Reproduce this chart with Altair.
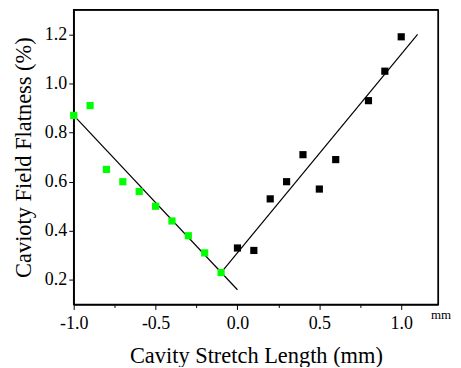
import altair as alt
import pandas as pd

green_x = [-1.0, -0.9, -0.8, -0.7, -0.6, -0.5, -0.4, -0.3, -0.2, -0.1]
green_y = [0.87, 0.91, 0.65, 0.60, 0.56, 0.50, 0.44, 0.38, 0.31, 0.23]
black_x = [0.0, 0.1, 0.2, 0.3, 0.4, 0.5, 0.6, 0.8, 0.9, 1.0]
black_y = [0.33, 0.32, 0.53, 0.60, 0.71, 0.57, 0.69, 0.93, 1.05, 1.19]
fit_green_x = [-1.0, 0.0]
fit_green_y = [0.87, 0.16]
fit_black_x = [-0.1, 1.1]
fit_black_y = [0.23, 1.20]
x_ticks = [-1.0, -0.75, -0.5, -0.25, 0.0, 0.25, 0.5, 0.75, 1.0]
y_ticks = [0.2, 0.3, 0.4, 0.5, 0.6, 0.7, 0.8, 0.9, 1.0, 1.1, 1.2, 1.3]
x_domain = [-1.0, 1.225]
y_domain = [0.1, 1.3]

FONT = "Liberation Serif"
W, H = 366, 296

green = pd.DataFrame({"x": green_x, "y": green_y})
black = pd.DataFrame({"x": black_x, "y": black_y})
fits = pd.DataFrame({
    "x": fit_green_x + fit_black_x,
    "y": fit_green_y + fit_black_y,
    "g": ["a", "a", "b", "b"],
})
box = pd.DataFrame({"x0": [x_domain[0]], "x1": [x_domain[1]],
                    "y0": [y_domain[0]], "y1": [y_domain[1]]})

xscale = alt.Scale(domain=x_domain, nice=False, zero=False)
yscale = alt.Scale(domain=y_domain, nice=False, zero=False)

XMAJ = "abs(datum.value*2 - round(datum.value*2)) < 0.001"
YMAJ = "abs(datum.value*5 - round(datum.value*5)) < 0.001"

xaxis = alt.Axis(
    values=x_ticks,
    labelExpr=XMAJ + " ? replace(format(datum.value, '.1f'), '\u2212', '-') : ''",
    tickSize={"condition": {"test": XMAJ, "value": 5}, "value": 3},
    grid=False,
    domainColor="black", tickColor="black", labelColor="black", titleColor="black",
    labelFont=FONT, labelFontSize=18, titleFont=FONT, titleFontSize=22.5,
    titleFontWeight="normal", labelPadding=5, titlePadding=12,
    labelFlush=False, labelOverlap=False,
    title="Cavity Stretch Length (mm)",
)
yaxis = alt.Axis(
    values=y_ticks,
    labelExpr=YMAJ + " ? format(datum.value, '.1f') : ''",
    tickSize={"condition": {"test": YMAJ, "value": 5}, "value": 3},
    grid=False,
    domainColor="black", tickColor="black", labelColor="black", titleColor="black",
    labelFont=FONT, labelFontSize=18, titleFont=FONT, titleFontSize=22.5,
    titleFontWeight="normal", labelPadding=2, titlePadding=9,
    labelFlush=False, labelOverlap=False,
    title="Cavioty Field Flatness (%)",
)

frame = alt.Chart(box).mark_rect(
    filled=False, stroke="black", strokeWidth=1.5, strokeOpacity=1, clip=False
).encode(
    x=alt.X("x0:Q", scale=xscale, axis=xaxis),
    x2="x1:Q",
    y=alt.Y("y0:Q", scale=yscale, axis=yaxis),
    y2="y1:Q",
)

pts_green = alt.Chart(green).mark_square(size=52, color="#00ff00", opacity=1).encode(
    x=alt.X("x:Q", scale=xscale),
    y=alt.Y("y:Q", scale=yscale),
)
pts_black = alt.Chart(black).mark_square(size=52, color="black", opacity=1).encode(
    x=alt.X("x:Q", scale=xscale),
    y=alt.Y("y:Q", scale=yscale),
)
lines = alt.Chart(fits).mark_line(color="black", strokeWidth=1.2).encode(
    x=alt.X("x:Q", scale=xscale),
    y=alt.Y("y:Q", scale=yscale),
    detail="g:N",
)
mm = alt.Chart(pd.DataFrame({"t": ["mm"]})).mark_text(
    font=FONT, fontSize=13, color="black", align="center", baseline="middle", clip=False
).encode(x=alt.value(369), y=alt.value(307), text="t:N")

chart = alt.layer(frame, lines, pts_green, pts_black, mm).properties(
    width=W, height=H,
    background="white",
    autosize=alt.AutoSizeParams(type="none"),
    padding={"left": 66, "top": 1, "right": 15, "bottom": 62},
).configure_view(stroke="black", strokeWidth=1)

chart.save("out.html", embed_options={"renderer": "svg", "actions": False})
